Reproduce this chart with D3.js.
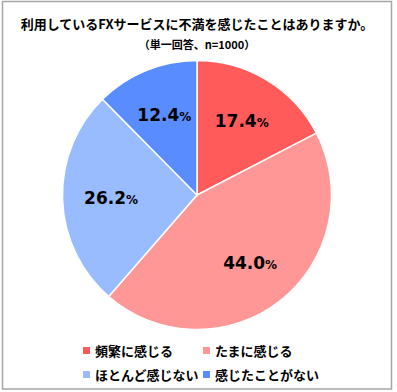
<!DOCTYPE html>
<html>
<head>
<meta charset="utf-8">
<script src="https://cdn.jsdelivr.net/npm/d3@7"></script>
<style>
  body { margin: 0; background: #fff; }
  text { font-family: "Noto Sans CJK JP", "Noto Sans", sans-serif; font-weight: bold; }
</style>
</head>
<body>
<div id="chart"></div>
<script>
const categories = ["頻繁に感じる", "たまに感じる", "ほとんど感じない", "感じたことがない"];
const values = [17.4, 44.0, 26.2, 12.4];
const colors = ["#ff5b5b", "#ff9797", "#99bbff", "#598cff"];
const title = "利用しているFXサービスに不満を感じたことはありますか。";
const subtitle = "（単一回答、n=1000）";

const width = 397;
const height = 392;
const cx = 197, cy = 195, radius = 134.5;

const svg = d3.select("#chart")
  .append("svg")
  .attr("width", width)
  .attr("height", height);

// frame
svg.append("rect")
  .attr("x", 2.5).attr("y", 1.5)
  .attr("width", 389).attr("height", 387.5)
  .attr("fill", "#fff")
  .attr("stroke", "#a6a6a6")
  .attr("stroke-width", 1.5);

svg.append("text")
  .attr("x", 197).attr("y", 29)
  .attr("text-anchor", "middle")
  .attr("font-size", 13)
  .attr("fill", "#000")
  .text(title);

svg.append("text")
  .attr("x", 197).attr("y", 49)
  .attr("text-anchor", "middle")
  .attr("font-size", 11)
  .attr("fill", "#000")
  .text(subtitle);

const pie = d3.pie().sort(null).value(d => d);
const arcs = pie(values);
const arc = d3.arc().innerRadius(0).outerRadius(radius);
const labelArc = d3.arc().innerRadius(86).outerRadius(86);

const g = svg.append("g").attr("transform", `translate(${cx},${cy})`);

g.selectAll("path")
  .data(arcs)
  .enter()
  .append("path")
  .attr("d", arc)
  .attr("fill", (d, i) => colors[i])
  .attr("stroke", "#fff")
  .attr("stroke-width", 1.5);

const labels = g.selectAll(".lbl")
  .data(arcs)
  .enter()
  .append("text")
  .attr("class", "lbl")
  .attr("transform", d => `translate(${labelArc.centroid(d)})`)
  .attr("text-anchor", "middle")
  .attr("dy", "0.35em")
  .attr("font-size", 17)
  .attr("fill", "#000")
  .style("font-family", "Verdana, 'DejaVu Sans', sans-serif");
labels.append("tspan").text(d => d.data.toFixed(1));
labels.append("tspan").attr("font-size", 12).text("%");

// legend
const legendX = [83, 203];
const legendY = [351, 375];
const legend = svg.selectAll(".leg")
  .data(categories)
  .enter()
  .append("g")
  .attr("class", "leg")
  .attr("transform", (d, i) => `translate(${legendX[i % 2]},${legendY[Math.floor(i / 2)]})`);

legend.append("rect")
  .attr("x", 0).attr("y", -4)
  .attr("width", 7).attr("height", 7)
  .attr("fill", (d, i) => colors[i]);

legend.append("text")
  .attr("x", 12).attr("y", 0)
  .attr("dy", "0.35em")
  .attr("font-size", 13)
  .attr("fill", "#000")
  .text(d => d);
</script>
</body>
</html>
